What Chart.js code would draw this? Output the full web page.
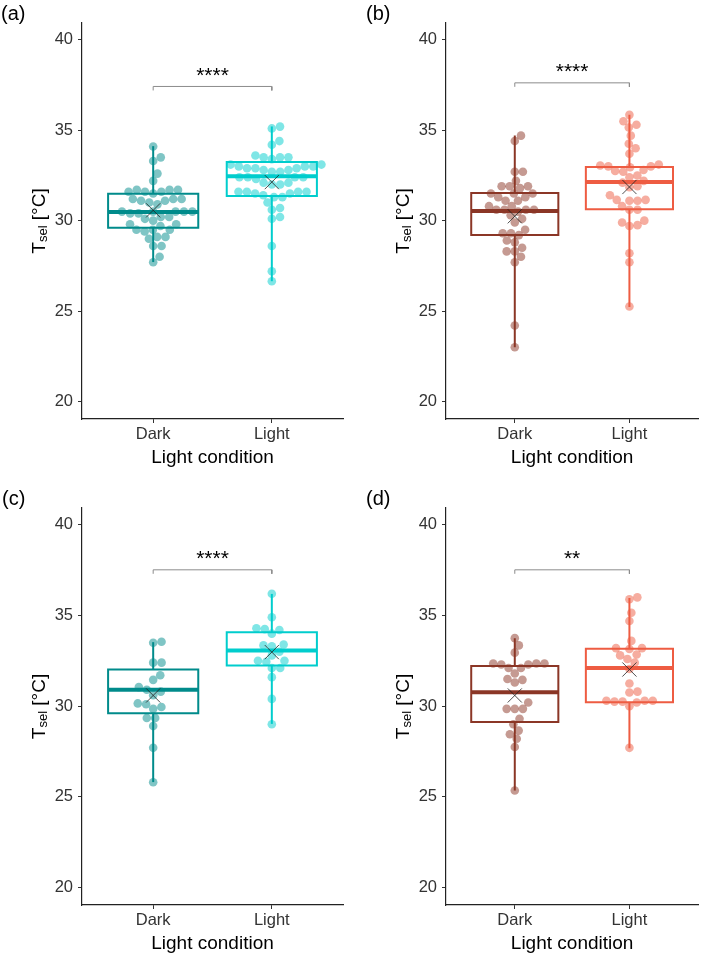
<!DOCTYPE html>
<html>
<head>
<meta charset="utf-8">
<title>Tsel by light condition</title>
<script src="https://cdn.jsdelivr.net/npm/chart.js@4.4.1/dist/chart.umd.min.js"></script>
<style>
  body { margin: 0; background: #fff; }
  #wrap { position: relative; width: 709px; height: 953px; }
  #wrap canvas { position: absolute; }
</style>
</head>
<body>
<div id="wrap">
  <canvas id="pa"></canvas>
  <canvas id="pb"></canvas>
  <canvas id="pc"></canvas>
  <canvas id="pd"></canvas>
</div>
<script>
const categories = ['Dark', 'Light'];
const yTicks = [20, 25, 30, 35, 40];
const panelLabels = ['(a)', '(b)', '(c)', '(d)'];
const sigLabels = ['****', '****', '****', '**'];
const bracketY = [37.42, 37.62, 37.52, 37.52];
const starY = [38.34, 38.58, 38.43, 38.43];

// selected temperatures, one value per animal
const aDark = [34.1, 33.5, 33.3, 32.6, 32.2, 31.7, 31.6, 31.7, 31.5, 31.6, 31.7, 31.6, 31.2, 31.2, 31.1, 31.2, 31.1, 31.0, 30.9,
  30.5, 30.5, 30.4, 30.5, 30.4, 30.5, 30.5, 30.2, 30.1, 30.0, 30.2, 29.8, 29.7, 29.8, 29.5, 29.4, 29.5, 29.5, 29.1, 29.0, 29.1,
  28.6, 28.6, 28.0, 27.7];
const aLight = [35.2, 35.1, 34.4, 34.2, 33.5, 33.5, 33.4, 33.5, 33.6, 33.0, 33.1, 32.9, 33.0, 32.9, 33.1, 32.9, 33.0, 32.8, 32.7,
  32.8, 32.7, 32.4, 32.4, 32.3, 32.4, 32.4, 32.1, 32.0, 32.0, 32.1, 31.6, 31.6, 31.5, 31.6, 31.5, 31.6, 31.3, 31.3, 31.4, 31.0,
  30.7, 30.6, 30.1, 30.2, 28.6, 27.2, 26.65];
const bDark = [34.7, 34.4, 32.7, 32.7, 32.2, 31.9, 31.8, 31.9, 31.9, 31.5, 31.3, 31.5, 31.3, 31.5, 31.1, 31.1, 30.8, 30.6, 30.8,
  30.6, 30.6, 30.6, 30.3, 30.5, 30.1, 29.9, 29.3, 29.3, 29.2, 29.5, 28.9, 28.8, 28.3, 28.3, 28.5, 28.0, 27.7, 24.2, 23.0];
const bLight = [35.85, 35.5, 35.3, 35.15, 34.7, 34.25, 34.0, 33.7, 33.05, 33.0, 33.0, 33.1, 32.95, 32.7, 32.8, 32.4, 32.5, 32.75,
  32.2, 31.9, 31.85, 32.1, 31.15, 31.1, 31.1, 31.15, 31.4, 30.6, 30.6, 30.8, 29.9, 29.7, 29.75, 30.0, 28.2, 27.7, 25.25];
const cDark = [33.55, 33.5, 32.4, 32.4, 31.7, 31.45, 31.05, 30.8, 30.9, 30.6, 30.15, 30.1, 29.85, 29.95, 29.35, 29.35, 28.9, 27.7, 25.8];
const cLight = [36.2, 34.9, 34.25, 34.2, 34.3, 34.0, 33.4, 33.3, 33.35, 33.0, 32.8, 32.5, 32.45, 32.5, 32.1, 32.1, 31.6, 30.4, 29.0];
const dDark = [33.75, 33.35, 32.95, 32.35, 32.3, 32.35, 32.3, 32.35, 32.1, 32.1, 31.8, 31.5, 31.45, 31.3, 30.2, 29.85, 29.85, 29.85,
  29.3, 29.0, 28.65, 28.45, 28.2, 27.75, 25.35];
const dLight = [36.0, 35.9, 35.15, 34.7, 33.6, 33.2, 33.15, 33.2, 32.85, 32.8, 32.6, 32.4, 32.05, 31.25, 30.8, 30.75, 30.3, 30.25,
  30.25, 30.3, 30.2, 30.3, 30.0, 27.7];

// box stats: [lower whisker, q1, median, q3, upper whisker, mean]
const aDarkStats = [27.71, 29.61, 30.48, 31.49, 34.12, 30.57];
const aLightStats = [26.65, 31.36, 32.46, 33.24, 35.21, 32.13];
const bDarkStats = [23.0, 29.21, 30.53, 31.53, 34.71, 30.24];
const bLightStats = [25.23, 30.63, 32.14, 32.97, 35.86, 31.86];
const cDarkStats = [25.81, 29.61, 30.9, 32.02, 33.53, 30.59];
const cLightStats = [29.02, 32.24, 33.07, 34.08, 36.19, 32.98];
const dDarkStats = [25.35, 29.12, 30.77, 32.21, 33.75, 30.59];
const dLightStats = [27.68, 30.22, 32.1, 33.16, 35.96, 32.02];

const FONT = '"Liberation Sans", Arial, Helvetica, sans-serif';
const Y_MIN = 19.03, Y_MAX = 40.93;
const X_MIN = 0.4, X_MAX = 2.6;
const X_AXIS_H = 30;
const BOX_HALF = 0.38;
const DOT_R = 4.3, DOT_GAP = 8.4;

const panels = [
  { id: 'pa', left: 0, top: 0, w: 354, h: 476, aL: 82, aR: 343, aT: 23, aB: 419, lx: 1, ly: 20,
    cols: ['#008B8B', '#00CDCD'], vals: [aDark, aLight], stats: [aDarkStats, aLightStats] },
  { id: 'pb', left: 354, top: 0, w: 355, h: 476, aL: 92, aR: 353, aT: 23, aB: 419, lx: 12, ly: 20,
    cols: ['#8B3626', '#EE5C42'], vals: [bDark, bLight], stats: [bDarkStats, bLightStats] },
  { id: 'pc', left: 0, top: 476, w: 354, h: 477, aL: 82, aR: 343, aT: 32, aB: 429, lx: 2, ly: 29,
    cols: ['#008B8B', '#00CDCD'], vals: [cDark, cLight], stats: [cDarkStats, cLightStats] },
  { id: 'pd', left: 354, top: 476, w: 355, h: 477, aL: 92, aR: 353, aT: 32, aB: 429, lx: 12, ly: 29,
    cols: ['#8B3626', '#EE5C42'], vals: [dDark, dLight], stats: [dDarkStats, dLightStats] }
];

function alpha(hex, a) {
  const n = parseInt(hex.slice(1), 16);
  return `rgba(${n >> 16},${(n >> 8) & 255},${n & 255},${a})`;
}

// simple beeswarm: each point goes to the free spot nearest the centre line
function swarm(values, pxX, pxY) {
  const idx = values.map((v, i) => i).sort((a, b) => values[a] - values[b]);
  const placed = [];
  const out = new Array(values.length);
  for (const i of idx) {
    const y = values[i] * pxY;
    const cands = [0];
    for (const q of placed) {
      const dy = Math.abs(q.y - y);
      if (dy < DOT_GAP) {
        const dx = Math.sqrt(DOT_GAP * DOT_GAP - dy * dy);
        cands.push(q.x + dx, q.x - dx);
      }
    }
    cands.sort((a, b) => Math.abs(a) - Math.abs(b));
    for (const c of cands) {
      if (placed.every(q => (q.x - c) ** 2 + (q.y - y) ** 2 >= DOT_GAP * DOT_GAP - 0.01)) {
        placed.push({ x: c, y });
        out[i] = c / pxX;
        break;
      }
    }
  }
  return out;
}

function line(points, color, width, order) {
  return {
    type: 'scatter', data: points, showLine: true, borderColor: color, borderWidth: width,
    pointRadius: 0, fill: false, order: order, borderJoinStyle: 'miter', borderCapStyle: 'butt'
  };
}

function groupSets(c, vals, st, col, pxX, pxY) {
  const off = swarm(vals, pxX, pxY);
  const [lo, q1, med, q3, hi, mean] = st;
  return [
    { data: vals.map((v, i) => ({ x: c + off[i], y: v })), pointRadius: DOT_R, pointHoverRadius: DOT_R,
      backgroundColor: alpha(col, 0.5), borderWidth: 0, order: 3 },
    line([{ x: c, y: lo }, { x: c, y: q1 }], col, 2, 2),
    line([{ x: c, y: q3 }, { x: c, y: hi }], col, 2, 2),
    line([{ x: c - BOX_HALF, y: q1 }, { x: c + BOX_HALF, y: q1 }, { x: c + BOX_HALF, y: q3 },
      { x: c - BOX_HALF, y: q3 }, { x: c - BOX_HALF, y: q1 }, { x: c + BOX_HALF, y: q1 }], col, 2, 2),
    line([{ x: c - BOX_HALF, y: med }, { x: c + BOX_HALF, y: med }], col, 4, 2),
    { data: [{ x: c, y: mean }], pointStyle: 'crossRot', pointRadius: 10, pointBorderColor: '#222',
      borderColor: '#222', pointBorderWidth: 0.8, borderWidth: 0.8, backgroundColor: 'rgba(0,0,0,0)', order: 1 }
  ];
}

function annotations(p, k) {
  return {
    id: 'annot' + k,
    afterDraw(chart) {
      const { ctx, chartArea: a, scales: { x, y } } = chart;
      ctx.save();
      ctx.fillStyle = '#000';
      ctx.textBaseline = 'alphabetic';
      ctx.textAlign = 'center';
      ctx.font = '21px ' + FONT;
      ctx.fillText(sigLabels[k], x.getPixelForValue(1.5), y.getPixelForValue(starY[k]) + 0.58 * 21);
      ctx.font = '19px ' + FONT;
      ctx.fillText('Light condition', (a.left + a.right) / 2, a.bottom + 44);
      ctx.textAlign = 'left';
      ctx.font = '20px ' + FONT;
      ctx.fillText(panelLabels[k], p.lx, p.ly);
      // y title with subscript
      ctx.translate(a.left - 37.5, (a.top + a.bottom) / 2);
      ctx.rotate(-Math.PI / 2);
      const big = '19px ' + FONT, small = '13px ' + FONT;
      ctx.font = big; const wT = ctx.measureText('T').width; const wR = ctx.measureText(' [°C]').width;
      ctx.font = small; const wS = ctx.measureText('sel').width;
      let sx = -(wT + wS + wR) / 2;
      ctx.font = big; ctx.fillText('T', sx, 0); sx += wT;
      ctx.font = small; ctx.fillText('sel', sx, 2); sx += wS;
      ctx.font = big; ctx.fillText(' [°C]', sx, 0);
      ctx.restore();
    }
  };
}

panels.forEach((p, k) => {
  const el = document.getElementById(p.id);
  el.width = p.w; el.height = p.h;
  el.style.left = p.left + 'px'; el.style.top = p.top + 'px';
  const pxX = (p.aR - p.aL) / (X_MAX - X_MIN);
  const pxY = (p.aB - p.aT) / (Y_MAX - Y_MIN);
  const b = bracketY[k];
  const datasets = [
    line([{ x: 1, y: b - 0.22 }, { x: 1, y: b }, { x: 2, y: b }, { x: 2, y: b - 0.22 }], '#8c8c8c', 1, 2),
    ...groupSets(1, p.vals[0], p.stats[0], p.cols[0], pxX, pxY),
    ...groupSets(2, p.vals[1], p.stats[1], p.cols[1], pxX, pxY)
  ];
  const axisCommon = {
    grid: { drawOnChartArea: false, drawTicks: true, tickLength: 4, tickColor: '#333', tickWidth: 1 },
    border: { display: true, color: '#222', width: 1.2 }
  };
  new Chart(el, {
    type: 'scatter',
    data: { datasets },
    options: {
      responsive: false, animation: false, devicePixelRatio: 1,
      layout: { padding: { left: 0, right: p.w - p.aR, top: p.aT, bottom: p.h - p.aB - X_AXIS_H } },
      plugins: { legend: { display: false }, tooltip: { enabled: false } },
      scales: {
        x: {
          type: 'linear', min: X_MIN, max: X_MAX, ...axisCommon,
          afterBuildTicks: s => { s.ticks = [1, 2].map(v => ({ value: v })); },
          afterFit: s => { s.height = X_AXIS_H; },
          ticks: { callback: v => categories[v - 1], color: '#333', font: { size: 16.5, family: FONT },
            padding: 2, maxRotation: 0, autoSkip: false }
        },
        y: {
          type: 'linear', min: Y_MIN, max: Y_MAX, ...axisCommon,
          afterBuildTicks: s => { s.ticks = yTicks.map(v => ({ value: v })); },
          afterFit: s => { s.width = p.aL; },
          ticks: { color: '#333', font: { size: 16.5, family: FONT }, padding: 5, autoSkip: false }
        }
      }
    },
    plugins: [annotations(p, k)]
  });
});
</script>
</body>
</html>
